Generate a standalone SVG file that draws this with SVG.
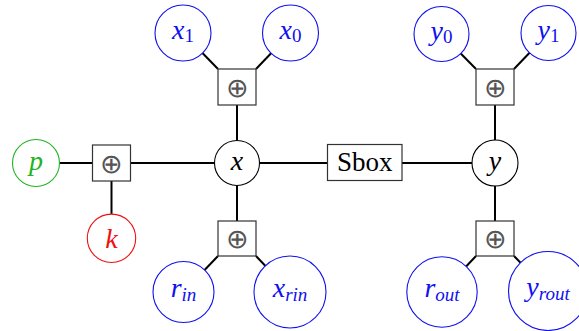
<svg xmlns="http://www.w3.org/2000/svg" width="579" height="331" viewBox="0 0 579 331">
<style>
.bg{fill:#fff}
.e{stroke:#000;stroke-width:2;fill:none}
.c{fill:#fff;stroke-width:1.1}
.blue{stroke:#1010f0}
.blk{stroke:#000}
.grn{stroke:#22b422}
.red{stroke:#f01010}
.box{fill:#fff;stroke:#333;stroke-width:1.2}
.t{font-family:"Liberation Serif",serif;font-style:italic;font-size:28px;text-anchor:middle}
.tb{fill:#1010f0}
.tg{fill:#22b422}
.tr{fill:#f01010}
.tk{fill:#000}
.sub{font-size:19px}
.num{font-style:normal}
.xor{font-family:"DejaVu Sans ExtraLight","DejaVu Sans",sans-serif;font-weight:200;font-size:27px;text-anchor:middle;fill:#555}
.sb{font-family:"Liberation Serif",serif;font-size:27px;text-anchor:middle;fill:#000}
</style>
<rect class="bg" x="0" y="0" width="579" height="331"/>
<g id="connectors">
<line class="e" x1="36" y1="163" x2="111.5" y2="163"/>
<line class="e" x1="111.5" y1="163" x2="237" y2="163"/>
<line class="e" x1="111.5" y1="163" x2="111.5" y2="238"/>
<line class="e" x1="237" y1="163" x2="237" y2="87"/>
<line class="e" x1="218" y1="69" x2="183" y2="33"/>
<line class="e" x1="256" y1="69" x2="290.5" y2="33"/>
<line class="e" x1="237" y1="163" x2="237" y2="238"/>
<line class="e" x1="218" y1="256" x2="183.5" y2="292"/>
<line class="e" x1="256" y1="256" x2="290" y2="292"/>
<line class="e" x1="237" y1="163" x2="495" y2="163"/>
<line class="e" x1="495" y1="163" x2="495" y2="87"/>
<line class="e" x1="476" y1="69" x2="441.5" y2="34"/>
<line class="e" x1="514" y1="69" x2="548.5" y2="33"/>
<line class="e" x1="495" y1="163" x2="495" y2="238"/>
<line class="e" x1="476" y1="256" x2="442" y2="292"/>
<line class="e" x1="514" y1="256" x2="548" y2="291"/>
</g>
<g id="p"><circle class="c grn" cx="36" cy="163" r="23.5"/><text class="t tg" x="36" y="169.5">p</text></g>
<g id="xorL"><rect class="box" x="92.5" y="145" width="38" height="36"/><text class="xor" x="111.5" y="172.5">⊕</text></g>
<g id="k"><circle class="c red" cx="111.5" cy="238.3" r="24.2"/><text class="t tr" x="111.5" y="248">k</text></g>
<g id="x1"><circle class="c blue" cx="183" cy="33" r="28"/><text class="t tb" x="183" y="38.5">x<tspan class="sub num" dy="3.5">1</tspan></text></g>
<g id="x0"><circle class="c blue" cx="290.5" cy="33" r="28"/><text class="t tb" x="290.5" y="38.5">x<tspan class="sub num" dy="3.5">0</tspan></text></g>
<g id="xorT"><rect class="box" x="218" y="69" width="38" height="36"/><text class="xor" x="237" y="96.5">⊕</text></g>
<g id="x"><circle class="c blk" cx="237" cy="163" r="22.5"/><text class="t tk" x="237" y="169.5">x</text></g>
<g id="xorB"><rect class="box" x="218" y="221" width="38" height="35"/><text class="xor" x="237" y="248">⊕</text></g>
<g id="rin"><circle class="c blue" cx="183.5" cy="292" r="30.5"/><text class="t tb" x="183.5" y="297">r<tspan class="sub" dy="4">in</tspan></text></g>
<g id="xrin"><circle class="c blue" cx="290" cy="292" r="36"/><text class="t tb" x="290" y="297">x<tspan class="sub" dy="4">rin</tspan></text></g>
<g id="sbox"><rect class="box" x="327.5" y="144.5" width="74.5" height="36"/><text class="sb" x="364.7" y="170.5">Sbox</text></g>
<g id="y"><circle class="c blk" cx="495" cy="163" r="23"/><text class="t tk" x="495" y="169.5">y</text></g>
<g id="y0"><circle class="c blue" cx="441.5" cy="34" r="27.5"/><text class="t tb" x="441.5" y="39.5">y<tspan class="sub num" dy="3.5">0</tspan></text></g>
<g id="y1"><circle class="c blue" cx="548.5" cy="33" r="27.5"/><text class="t tb" x="548.5" y="38.5">y<tspan class="sub num" dy="3.5">1</tspan></text></g>
<g id="xorTR"><rect class="box" x="476" y="69" width="38" height="36"/><text class="xor" x="495" y="96.5">⊕</text></g>
<g id="xorBR"><rect class="box" x="476" y="221" width="38" height="35"/><text class="xor" x="495" y="248">⊕</text></g>
<g id="rout"><circle class="c blue" cx="442" cy="292" r="35.2"/><text class="t tb" x="442" y="297">r<tspan class="sub" dy="4">out</tspan></text></g>
<g id="yrout"><circle class="c blue" cx="548" cy="291" r="39.5"/><text class="t tb" x="548" y="296">y<tspan class="sub" dy="4">rout</tspan></text></g>
</svg>
